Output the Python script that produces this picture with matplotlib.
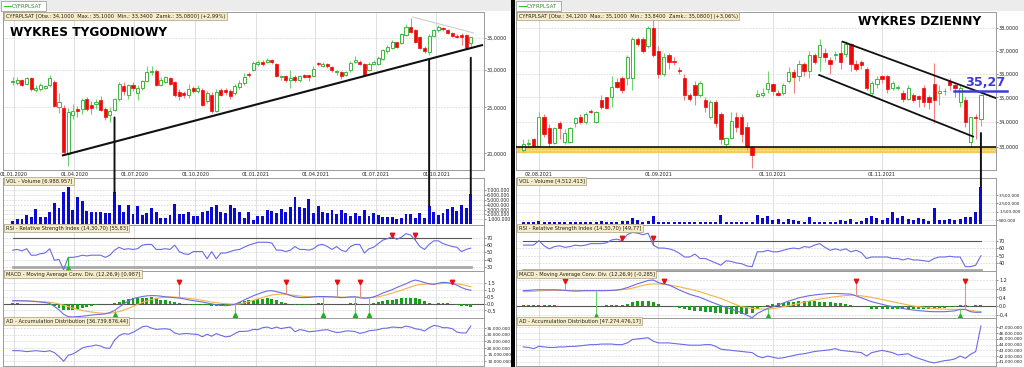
import numpy as np
import pandas as pd
import matplotlib
matplotlib.use('Agg')
import matplotlib.pyplot as plt
import matplotlib.dates as mdates
from matplotlib.patches import Rectangle, ConnectionPatch
from matplotlib.lines import Line2D
from matplotlib.ticker import NullLocator, NullFormatter

# ======================= WEEKLY DATA (left) =======================
w_start = '2019-12-30'
w_open = [28.2,28.1,28.5,28.0,28.8,27.2,27.3,27.5,27.9,28.3,
          25.0,24.9,19.95,24.1,24.8,24.8,26.0,25.3,25.4,25.9,
          24.8,24.1,24.7,26.0,27.7,26.5,27.9,26.8,27.4,28.4,
          29.7,29.8,27.9,28.3,28.8,28.2,26.9,26.8,26.5,27.4,
          27.0,27.2,25.8,26.6,24.6,27.2,27.2,27.1,26.8,27.6,
          28.1,29.4,30.0,30.9,31.2,31.2,31.4,30.8,28.9,29.1,
          28.6,29.0,28.5,29.2,29.2,29.1,31.0,30.6,30.8,30.4,
          29.6,29.6,29.3,29.9,31.2,31.2,30.9,30.0,30.9,30.9,
          31.6,32.8,33.4,34.3,34.2,35.5,36.9,36.3,35.2,33.4,
          32.7,35.3,36.3,36.8,36.3,35.9,35.4,35.5,35.5,34.1]
w_high = [28.9,28.9,28.7,29.0,29.0,27.9,28.1,27.9,29.3,28.5,
          26.8,25.3,24.9,25.4,25.2,26.2,26.3,25.8,26.0,26.4,
          25.0,25.0,26.1,28.3,28.3,28.0,28.2,27.8,28.6,30.6,
          30.6,30.1,28.9,29.1,29.0,28.4,27.3,27.1,28.0,27.7,
          27.8,27.4,27.1,26.9,27.3,27.5,27.4,27.3,28.0,28.5,
          29.5,29.7,31.3,31.4,31.5,31.7,31.6,31.0,29.3,29.3,
          29.9,29.2,29.3,29.4,29.3,30.6,31.2,31.1,31.0,30.6,
          30.0,29.8,29.8,31.3,32.0,31.4,31.0,31.1,31.4,32.1,
          33.2,33.9,34.6,34.4,35.8,37.5,38.6,36.5,35.3,33.6,
          35.6,36.5,37.3,37.0,36.5,36.1,35.6,35.8,35.7,35.1]
w_low = [27.9,27.8,27.7,27.8,27.0,26.9,27.1,27.3,27.6,25.0,
         24.3,19.9,18.8,23.6,23.8,24.2,24.5,24.2,24.8,24.5,
         23.5,23.3,24.5,25.8,26.6,26.0,27.0,25.9,27.2,28.3,
         29.3,27.7,27.7,28.1,27.8,26.3,25.9,26.2,26.2,26.8,
         26.8,25.1,25.5,24.3,24.4,26.4,26.6,26.0,26.5,27.3,
         27.9,28.9,29.8,30.6,30.5,31.0,30.8,28.9,28.6,28.3,
         27.4,28.3,28.3,28.8,28.4,29.0,30.6,30.4,30.3,29.7,
         29.2,28.7,29.1,29.7,31.0,30.7,29.1,29.8,30.7,30.7,
         31.4,32.6,33.2,33.3,34.0,35.3,35.8,34.2,33.1,32.5,
         32.2,35.1,36.1,36.2,35.6,35.2,35.0,33.9,33.2,33.34]
w_close = [28.4,28.6,27.9,28.8,27.3,27.5,27.8,27.7,28.8,25.2,
           25.6,20.1,24.4,24.6,24.5,25.9,24.8,24.9,25.6,24.7,
           23.9,24.6,26.0,28.0,27.0,27.8,27.4,27.5,28.4,29.6,
           29.85,27.9,28.6,28.9,28.0,26.5,26.4,26.5,27.3,27.0,
           27.5,25.3,26.8,24.6,26.9,26.6,26.9,26.4,27.7,28.1,
           29.0,29.2,31.0,31.1,30.9,31.5,31.1,29.1,29.1,28.5,
           28.8,28.5,29.1,29.0,29.0,30.1,30.8,30.8,30.5,29.9,
           29.8,29.1,29.6,31.0,31.5,30.9,29.3,30.9,31.2,31.7,
           33.0,33.5,34.3,33.5,35.6,36.9,36.0,34.4,33.4,32.8,
           35.4,36.3,36.9,36.5,35.8,35.4,35.2,35.2,33.4,35.08]
w_vol_m = [0.55,1.0,1.0,1.9,1.4,3.2,1.5,1.5,2.5,4.4,
           3.3,6.6,7.8,3.0,5.6,4.9,2.8,2.6,2.6,2.6,
           2.2,2.4,6.6,3.9,2.5,4.0,2.1,3.8,1.9,2.3,
           3.3,2.5,1.25,1.25,1.8,4.2,2.1,2.1,2.6,1.6,
           1.6,2.6,2.8,3.5,4.0,2.6,2.3,4.0,3.3,2.6,
           1.25,2.5,0.9,1.7,1.7,3.0,2.8,2.3,3.1,2.6,
           3.5,5.6,3.5,3.3,5.2,2.3,3.8,2.6,2.3,3.0,
           2.1,3.0,2.3,1.6,2.4,1.7,3.0,1.6,2.3,1.9,
           1.4,1.4,1.4,1.0,1.25,2.1,2.1,1.25,2.3,1.25,
           3.7,2.6,1.9,2.3,3.1,3.5,2.8,4.0,3.3,6.25]
w_rsi = [53,54,52,55,46,46,48,49,55,39,
         40,26,43,43,44,46,45,46,46,46,
         43,46,53,57,54,55,54,55,60,61,
         61,54,54,55,54,60,51,48,47,51,
         51,51,41,51,41,49,49,51,53,54,
         57,60,62,64,64,64,63,53,53,51,
         53,58,54,54,53,55,60,61,58,54,
         58,53,51,58,61,61,49,55,57,62,
         67,69,72,68,71,76,74,67,58,54,
         61,66,66,62,60,58,57,51,54,55.83]
w_macd = [0.22,0.22,0.21,0.2,0.18,0.15,0.12,0.08,0.02,-0.2,
          -0.45,-0.78,-0.95,-0.97,-0.95,-0.92,-0.88,-0.84,-0.8,-0.78,
          -0.75,-0.65,-0.5,-0.25,-0.02,0.2,0.36,0.45,0.52,0.57,
          0.59,0.58,0.55,0.5,0.47,0.44,0.4,0.35,0.28,0.22,
          0.17,0.12,0.05,-0.02,-0.08,-0.12,-0.15,-0.12,-0.05,0.1,
          0.27,0.42,0.58,0.7,0.83,0.93,0.95,0.88,0.8,0.72,
          0.6,0.5,0.45,0.44,0.46,0.5,0.52,0.52,0.51,0.5,
          0.47,0.44,0.46,0.5,0.5,0.44,0.39,0.42,0.5,0.62,
          0.78,0.9,1.02,1.18,1.32,1.45,1.62,1.73,1.65,1.54,
          1.46,1.41,1.5,1.56,1.53,1.48,1.35,1.18,1.05,0.987]
w_signal = [0.2,0.2,0.2,0.19,0.18,0.17,0.15,0.13,0.1,0.05,
            -0.02,-0.12,-0.22,-0.32,-0.42,-0.5,-0.56,-0.61,-0.65,-0.69,
            -0.71,-0.7,-0.65,-0.58,-0.47,-0.35,-0.2,-0.05,0.08,0.2,
            0.3,0.38,0.44,0.48,0.49,0.48,0.46,0.43,0.39,0.34,
            0.3,0.24,0.18,0.12,0.07,0.03,0.0,-0.03,-0.04,-0.02,
            0.05,0.15,0.25,0.35,0.45,0.55,0.63,0.68,0.7,0.68,
            0.64,0.6,0.56,0.53,0.51,0.5,0.5,0.5,0.5,0.5,
            0.49,0.48,0.47,0.47,0.48,0.47,0.45,0.44,0.45,0.5,
            0.58,0.67,0.77,0.88,0.99,1.1,1.22,1.33,1.4,1.43,
            1.44,1.44,1.45,1.47,1.49,1.49,1.46,1.4,1.32,1.24]
w_hist = [0.02,0.02,0.01,0.01,0.0,-0.02,-0.03,-0.05,-0.08,-0.15,
          -0.3,-0.45,-0.5,-0.45,-0.42,-0.35,-0.25,-0.15,-0.1,-0.05,
          -0.02,0.0,0.05,0.15,0.3,0.35,0.38,0.4,0.42,0.45,
          0.48,0.4,0.3,0.25,0.2,0.1,0.05,-0.05,-0.08,-0.1,
          -0.1,-0.12,-0.12,-0.15,-0.18,-0.15,-0.12,-0.08,-0.02,0.1,
          0.2,0.25,0.3,0.32,0.35,0.38,0.35,0.25,0.12,0.03,
          -0.05,-0.1,-0.1,-0.1,-0.08,-0.02,0.02,0.02,0.0,0.0,
          -0.05,-0.05,-0.02,0.03,0.05,-0.02,-0.06,-0.04,0.05,0.12,
          0.2,0.25,0.3,0.35,0.38,0.42,0.45,0.45,0.35,0.2,
          0.05,0.0,0.05,0.08,0.05,0.0,-0.1,-0.15,-0.2,-0.22]
w_ad_m = [18.0,18.0,17.8,17.3,17.6,18.0,17.6,17.3,18.0,16.5,
          13.5,9.9,14.5,15.5,17.5,20.0,21.0,21.5,22.3,21.5,
          20.0,19.8,26.0,29.5,31.0,30.5,32.0,34.0,36.2,36.7,
          35.2,34.2,34.5,34.7,34.2,31.5,30.5,31.0,31.0,30.6,
          30.3,28.6,30.5,29.0,31.0,29.7,28.5,29.0,31.0,32.7,
          32.7,33.0,34.2,34.0,35.5,36.0,34.8,36.0,34.8,35.5,
          36.0,32.4,34.0,33.5,32.4,32.7,33.2,33.7,34.0,32.8,
          31.8,32.2,33.0,33.0,32.5,31.2,31.8,33.2,33.5,34.0,
          35.0,35.2,36.0,35.8,35.5,36.7,36.0,34.7,34.2,33.0,
          35.5,37.2,36.7,35.5,35.5,34.7,32.2,31.5,31.5,36.74]
w_tick_dates = ['2020-01-01','2020-04-01','2020-07-01','2020-10-01',
                '2021-01-01','2021-04-01','2021-07-01','2021-10-01']
w_tick_labels = ['01.01.2020','01.04.2020','01.07.2020','01.10.2020',
                 '01.01.2021','01.04.2021','01.07.2021','01.10.2021']
w_rsi_sell = [82, 87]
w_rsi_buy = [12]
w_macd_sell = [36, 59, 70, 75, 95]
w_macd_buy = [22, 48, 67, 74, 77]
w_trend = [('2020-03-15', 19.8), ('2021-12-09', 33.8)]
w_grey = [('2021-08-26', 38.76), ('2021-11-26', 35.86)]
w_vlines = [(22, 23.8), (90, 31.6), (99, 31.8)]   # (week index, price where line starts)

# ======================= DAILY DATA (right) =======================
d_open = [32.9,33.1,33.3,33.05,34.2,33.75,33.15,33.95,33.2,33.2,
          33.95,34.2,34.0,34.45,34.0,34.9,35.0,35.0,35.65,35.8,
          35.8,35.8,37.5,37.5,37.2,38.0,37.0,36.0,36.8,36.55,
          36.15,35.8,35.1,35.5,35.1,34.9,34.2,34.8,34.3,33.1,
          33.35,34.2,34.2,33.8,33.0,35.05,35.1,35.35,35.55,35.2,
          35.2,35.7,36.05,35.9,36.4,36.1,36.8,36.7,36.9,36.6,
          36.8,36.9,36.85,37.3,36.4,36.5,36.2,35.2,35.55,35.9,
          35.9,35.4,35.4,35.2,34.95,35.1,35.05,35.4,35.0,35.55,
          35.2,35.25,35.7,35.5,34.8,34.9,33.2,34.2,34.12]
d_high = [33.3,33.3,33.35,34.4,34.3,33.9,33.8,34.05,33.7,33.8,
          34.2,34.3,34.4,34.5,34.45,35.1,35.0,35.9,35.8,35.9,
          36.8,37.6,37.6,37.6,38.1,38.7,37.2,36.9,36.9,36.7,
          36.3,36.0,35.2,35.7,35.7,35.0,34.9,34.9,34.4,33.4,
          34.4,34.4,34.3,34.0,33.05,35.3,35.4,36.1,35.6,35.3,
          35.6,36.3,36.2,36.6,36.5,37.0,36.9,37.5,37.1,36.7,
          37.0,37.4,37.4,37.35,36.6,36.6,36.3,35.7,35.9,35.95,
          35.95,35.7,35.5,35.3,35.5,35.2,35.1,35.5,35.1,36.45,
          35.5,35.4,35.8,35.6,35.5,35.0,34.2,34.3,35.10]
d_low = [32.8,33.0,33.0,33.0,33.4,33.0,33.1,33.3,33.1,33.15,
         33.8,33.9,33.9,34.35,33.95,34.5,34.5,34.6,35.4,35.2,
         35.5,35.3,37.2,36.9,37.1,36.7,35.8,35.9,36.2,36.35,
         36.0,34.9,34.85,34.7,35.0,34.4,34.1,33.8,33.1,32.95,
         33.3,33.6,33.2,32.9,32.2,35.0,35.0,35.2,35.1,35.05,
         35.1,35.6,35.2,35.7,35.9,35.8,36.4,36.1,36.5,36.0,
         36.6,36.2,36.7,36.1,36.1,36.2,35.3,35.1,35.4,35.6,
         35.2,35.3,35.3,34.8,34.9,34.8,34.6,34.6,34.5,33.95,
         34.7,35.1,35.3,35.0,34.6,33.8,33.0,33.3,33.84]
d_close = [33.1,33.15,33.05,34.2,33.5,33.15,33.75,33.75,33.55,33.75,
           34.15,34.0,34.3,34.4,34.4,34.6,34.55,35.45,35.45,35.3,
           36.7,37.5,37.3,37.0,38.0,36.8,36.0,36.7,36.5,36.5,
           36.1,35.1,34.95,35.1,35.6,34.6,34.8,33.95,33.3,33.35,
           34.05,33.8,33.5,33.0,32.7,35.15,35.2,35.6,35.25,35.1,
           35.5,36.05,35.85,36.4,36.1,36.8,36.5,37.25,36.7,36.4,
           36.85,36.5,37.3,36.4,36.2,36.35,35.4,35.6,35.75,35.75,
           35.35,35.6,35.42,34.95,35.4,34.9,34.95,34.8,34.8,34.9,
           35.25,35.28,35.5,35.4,35.4,34.0,34.2,34.15,35.08]
d_vol_m = [0.22,0.25,0.3,0.38,0.25,0.22,0.22,0.22,0.22,0.25,
           0.22,0.25,0.22,0.25,0.28,0.38,0.3,0.28,0.3,0.38,
           0.4,0.72,0.5,0.3,0.35,1.0,0.3,0.22,0.22,0.25,
           0.22,0.25,0.28,0.28,0.28,0.3,0.28,0.3,1.1,0.25,
           0.25,0.22,0.25,0.3,0.25,1.1,0.72,1.0,0.45,0.58,
           0.3,0.62,0.5,0.42,0.3,0.9,0.3,0.28,0.28,0.3,
           0.3,0.55,0.42,0.58,0.3,0.42,0.78,1.0,0.78,0.5,
           0.7,1.5,0.7,1.0,0.58,0.5,0.7,0.58,0.42,2.0,
           0.5,0.5,0.58,0.5,0.58,0.82,0.9,1.5,4.51]
d_rsi = [64,64,64,70,63,59,62,63,61,62,
         64,63,64,66,66,66,67,71,72,70,
         78,81,80,78,80,64,60,60,59,57,
         53,48,48,52,46,46,43,40,37,43,
         42,40,39,36,35,55,55,57,55,55,
         57,59,60,59,62,61,64,66,61,57,
         59,57,59,55,57,54,46,48,48,48,
         48,46,46,44,46,44,44,43,42,46,
         48,48,49,48,48,35,35,37,49.77]
d_macd = [0.71,0.72,0.74,0.75,0.75,0.75,0.75,0.74,0.72,0.7,
          0.69,0.7,0.71,0.71,0.71,0.71,0.71,0.72,0.74,0.78,
          0.85,0.94,1.03,1.1,1.18,1.2,1.08,1.02,0.97,0.86,
          0.74,0.64,0.54,0.47,0.4,0.3,0.2,0.11,0.02,-0.06,
          -0.14,-0.22,-0.31,-0.42,-0.54,-0.34,-0.22,-0.11,-0.03,0.05,
          0.14,0.23,0.3,0.38,0.43,0.48,0.51,0.54,0.56,0.58,
          0.58,0.57,0.56,0.55,0.47,0.38,0.29,0.2,0.14,0.08,
          0.02,-0.03,-0.07,-0.11,-0.15,-0.18,-0.21,-0.23,-0.25,-0.26,
          -0.26,-0.26,-0.24,-0.22,-0.15,-0.15,-0.26,-0.29,-0.285]
d_signal = [0.66,0.67,0.68,0.7,0.71,0.72,0.72,0.72,0.72,0.72,
            0.71,0.71,0.71,0.71,0.71,0.71,0.72,0.72,0.73,0.75,
            0.78,0.83,0.89,0.95,1.0,1.02,1.02,1.0,0.97,0.93,
            0.89,0.83,0.78,0.72,0.66,0.58,0.5,0.43,0.35,0.25,
            0.15,0.06,-0.03,-0.07,-0.11,-0.13,-0.14,-0.14,-0.12,-0.08,
            -0.03,0.02,0.07,0.12,0.18,0.23,0.28,0.32,0.36,0.4,
            0.43,0.46,0.48,0.5,0.49,0.47,0.44,0.4,0.35,0.3,
            0.25,0.2,0.15,0.1,0.05,0.0,-0.03,-0.06,-0.09,-0.11,
            -0.13,-0.14,-0.15,-0.15,-0.16,-0.17,-0.2,-0.23,-0.26]
d_hist = [0.06,0.05,0.06,0.07,0.06,0.04,0.04,0.02,0.02,0.0,
          0.0,0.0,0.0,0.0,0.0,0.01,0.04,0.05,0.06,0.06,
          0.1,0.18,0.22,0.23,0.23,0.2,0.08,0.02,-0.02,-0.03,
          -0.1,-0.15,-0.2,-0.22,-0.25,-0.27,-0.28,-0.3,-0.33,-0.35,
          -0.37,-0.38,-0.36,-0.35,-0.3,-0.15,-0.05,0.03,0.08,0.12,
          0.15,0.18,0.2,0.22,0.23,0.22,0.22,0.2,0.2,0.18,
          0.15,0.12,0.08,0.05,0.0,0.0,0.0,-0.12,-0.13,-0.14,
          -0.15,-0.15,-0.15,-0.15,-0.15,-0.14,-0.13,-0.13,-0.12,-0.12,
          -0.1,-0.08,-0.06,-0.05,0.05,0.05,-0.04,0.04,0.04]
d_ad_m = [43.6,43.5,43.3,43.7,43.6,43.5,43.5,43.6,43.6,43.7,
          43.7,43.8,43.9,44.0,44.0,44.1,44.1,44.1,44.0,44.0,
          44.3,44.9,45.0,45.1,45.2,44.6,44.3,44.3,44.3,44.2,
          44.1,44.0,43.9,43.9,43.9,44.0,44.0,43.7,43.2,43.1,
          43.0,42.9,42.8,42.7,42.6,42.0,41.7,42.0,41.8,41.6,
          41.7,41.9,42.1,42.3,42.4,42.6,42.8,42.9,43.0,43.1,
          43.3,43.0,42.9,42.8,42.7,42.6,42.0,42.6,42.8,43.0,
          42.8,42.6,42.2,42.3,42.4,41.9,41.6,41.3,41.0,40.8,
          41.0,41.2,41.3,41.5,42.0,41.6,42.3,42.8,47.27]
d_tick_idx = [3, 26, 48, 69]
d_tick_labels = ['02.08.2021', '01.09.2021', '01.10.2021', '01.11.2021']
d_rsi_sell = [19, 25]
d_macd_sell = [8, 27, 64, 85]
d_macd_buy = [14, 47, 84]
d_channel_up = [(61.4, 37.39), (91.0, 34.96)]
d_channel_lo = [(56.9, 35.94), (86.5, 33.41)]
d_resist = 35.27
d_support = 33.0
d_vline = (88, 33.55)

# ======================= FIGURE =======================
W, H = 1024, 367
fig = plt.figure(figsize=(W / 100, H / 100), dpi=100)
fig.patch.set_facecolor('white')


def px_axes(x0, y0, x1, y1):
    return fig.add_axes([x0 / W, 1 - y1 / H, (x1 - x0) / W, (y1 - y0) / H])


def fx(x):
    return x / W


def fy(y):
    return 1 - y / H


TICK_FS = 3.5
BIG_FS = 3.1
LAB_FS = 3.7
GRID_C = '#dadada'
LINE_C = '#6b6be6'
SIG_C = '#f2b24a'


def dotfmt(v):
    return f"{int(round(v)):,}".replace(',', '.')


def style(ax):
    ax.set_facecolor('white')
    for s in ax.spines.values():
        s.set_color('#9a9a9a')
        s.set_linewidth(0.7)
    ax.yaxis.tick_right()
    ax.tick_params(axis='y', which='major', labelsize=TICK_FS, length=1.5, width=0.5,
                   color='#666666', pad=0.7, labelcolor='#222222')
    ax.yaxis.set_minor_locator(NullLocator())
    ax.tick_params(axis='x', which='both', length=0, labelbottom=False)


def label_box(ax, text, y=0.985):
    ax.text(0.006, y, text, transform=ax.transAxes, va='top', ha='left',
            fontsize=LAB_FS, color='#222222', zorder=10,
            bbox=dict(boxstyle='square,pad=0.3', fc='#f6ecc9', ec='#a7a07f', lw=0.5))


def candles(ax, x, o, h, l, c, width):
    x = np.asarray(x, float)
    o, h, l, c = map(np.asarray, (o, h, l, c))
    up = c >= o
    ax.vlines(x[up], l[up], h[up], colors='#6fd36f', lw=0.8, zorder=2)
    ax.vlines(x[~up], l[~up], h[~up], colors='#f08080', lw=0.8, zorder=2)
    bot = np.minimum(o, c)
    hgt = np.abs(c - o)
    ax.bar(x[up], hgt[up], bottom=bot[up], width=width, facecolor='white',
           edgecolor='#3cb83c', lw=0.7, zorder=3)
    ax.bar(x[~up], hgt[~up], bottom=bot[~up], width=width, facecolor='#ee0a0a',
           edgecolor='#ee0a0a', lw=0.5, zorder=3)


def vgrid(ax, xs):
    for xv in xs:
        ax.axvline(xv, color=GRID_C, lw=0.6, zorder=0)


def hgrid(ax, ys):
    for yv in ys:
        ax.axhline(yv, color=GRID_C, lw=0.6, ls=(0, (2, 1.5)), zorder=0)


def build_panel(x0, x1, x, xlim, xticks, xticklabels, o, h, l, c, width, bar_w,
                vol, rsi, macd, sig, hist, ad, cfg):
    ax_p = px_axes(x0, 12, x1, 170)
    ax_v = px_axes(x0, 178, x1, 225)
    ax_r = px_axes(x0, 225, x1, 271)
    ax_m = px_axes(x0, 271, x1, 318)
    ax_a = px_axes(x0, 318, x1, 366)
    for ax in (ax_p, ax_v, ax_r, ax_m, ax_a):
        style(ax)
        ax.set_xlim(*xlim)
        vgrid(ax, xticks)

    # price
    ax_p.set_yscale('log')
    ax_p.set_ylim(*cfg['p_ylim'])
    ax_p.yaxis.set_minor_locator(NullLocator())
    ax_p.yaxis.set_minor_formatter(NullFormatter())
    ax_p.set_yticks(cfg['p_ticks'])
    ax_p.set_yticklabels([f"{t:.4f}".replace('.', ',') for t in cfg['p_ticks']])
    hgrid(ax_p, cfg['p_ticks'])
    candles(ax_p, x, o, h, l, c, width)
    ax_p.set_xticks(xticks)
    ax_p.set_xticklabels(xticklabels)
    ax_p.tick_params(axis='x', labelbottom=True, labelsize=TICK_FS, pad=1.4,
                     labelcolor='#222222')
    label_box(ax_p, cfg['info'], y=0.99)

    # volume
    ax_v.bar(x, vol, width=bar_w, color='#0a0ad2', zorder=3)
    ax_v.set_ylim(*cfg['v_ylim'])
    ax_v.set_yticks(cfg['v_ticks'])
    ax_v.set_yticklabels([dotfmt(t * 1e6) for t in cfg['v_ticks']])
    ax_v.tick_params(axis='y', labelsize=cfg['big_fs'])
    hgrid(ax_v, cfg['v_ticks'])
    label_box(ax_v, cfg['vol_label'])

    # RSI
    ax_r.set_ylim(*cfg['r_ylim'])
    ax_r.set_yticks(cfg['r_ticks'])
    ax_r.set_yticklabels([str(t) for t in cfg['r_ticks']])
    hgrid(ax_r, cfg['r_ticks'])
    ax_r.plot([x[0], x[-1]], [70, 70], color='#555555', lw=0.8, zorder=2)
    ax_r.plot([x[0], x[-1]], [30, 30], color='#a8a8a8', lw=2.0, zorder=2)
    ax_r.plot(x, rsi, color=LINE_C, lw=0.8, zorder=4)
    for i in cfg['r_sell']:
        ax_r.vlines(x[i], rsi[i], 72, color='#e83a3a', lw=0.6, zorder=5)
        ax_r.plot(x[i], 73.5, marker='v', color='#e81010', ms=3.2, zorder=6)
    for i in cfg['r_buy']:
        ax_r.vlines(x[i], 30, rsi[i], color='#22c022', lw=0.8, zorder=5)
        ax_r.plot(x[i], 28.5, marker='^', color='#22c022', ms=3.2, zorder=6)
    label_box(ax_r, cfg['rsi_label'])

    # MACD
    ax_m.set_ylim(*cfg['m_ylim'])
    ax_m.set_yticks(cfg['m_ticks'])
    ax_m.set_yticklabels([f"{t:.1f}".replace('.', ',').replace('-0,0', '0,0')
                          for t in cfg['m_ticks']])
    hgrid(ax_m, cfg['m_ticks'])
    ax_m.axhline(0, color='#555555', lw=0.8, zorder=2)
    ax_m.bar(x, hist, width=bar_w, color='#18a018', zorder=3)
    ax_m.plot(x, sig, color=SIG_C, lw=0.8, zorder=4)
    ax_m.plot(x, macd, color=LINE_C, lw=0.8, zorder=5)
    top_lvl, bot_lvl = cfg['m_marks']
    for i in cfg['m_sell']:
        ax_m.vlines(x[i], macd[i], top_lvl, color='#f08a8a', lw=0.8, zorder=6)
        ax_m.plot(x[i], top_lvl, marker='v', color='#e81010', ms=3.2, zorder=7)
    for i in cfg['m_buy']:
        ax_m.vlines(x[i], bot_lvl, macd[i], color='#66d466', lw=0.8, zorder=6)
        ax_m.plot(x[i], bot_lvl, marker='^', color='#22b022', ms=3.2, zorder=7)
    label_box(ax_m, cfg['macd_label'])

    # AD
    ax_a.set_ylim(*cfg['a_ylim'])
    ax_a.set_yticks(cfg['a_ticks'])
    ax_a.set_yticklabels([dotfmt(t * 1e6) for t in cfg['a_ticks']])
    ax_a.tick_params(axis='y', labelsize=BIG_FS)
    hgrid(ax_a, cfg['a_ticks'])
    ax_a.plot(x, ad, color=LINE_C, lw=0.8, zorder=4)
    label_box(ax_a, cfg['ad_label'])
    return ax_p, ax_v


# ---------------- left panel ----------------
w_x = mdates.date2num(pd.date_range(w_start, periods=len(w_close), freq='7D'))
w_xt = mdates.date2num(pd.to_datetime(w_tick_dates))
left_cfg = dict(
    p_ylim=(18.44, 39.7), p_ticks=[20, 25, 30, 35],
    info='CYFRPLSAT [Otw.: 34,1000  Max.: 35,1000  Min.: 33,3400  Zamk.: 35,0800] (+2,99%)',
    v_ylim=(-0.2, 9.6), v_ticks=[1, 2, 3, 4, 5, 6, 7], big_fs=3.3,
    vol_label='VOL - Volume [6.988.957]',
    r_ylim=(24, 88), r_ticks=[30, 40, 50, 60, 70], r_sell=w_rsi_sell, r_buy=w_rsi_buy,
    rsi_label='RSI - Relative Strength Index (14,30,70) [55,83]',
    m_ylim=(-1.05, 2.39), m_ticks=[-0.5, 0.0, 0.5, 1.0, 1.5], m_marks=(1.62, -0.86),
    m_sell=w_macd_sell, m_buy=w_macd_buy,
    macd_label='MACD - Moving Average Conv. Div. (12,26,9) [0,987]',
    a_ylim=(6.3, 42.9), a_ticks=[10, 15, 20, 25, 30, 35],
    ad_label='AD - Accumulation Distribution [36.739.876,44]')
wl_p, wl_v = build_panel(3, 484, w_x, (w_x[0] - 14.7, w_x[0] + 713), w_xt, w_tick_labels,
                         w_open, w_high, w_low, w_close, 4.6, 4.4,
                         w_vol_m, w_rsi, w_macd, w_signal, w_hist, w_ad_m, left_cfg)

# annotations left
tx = mdates.date2num(pd.to_datetime([p[0] for p in w_trend]))
wl_p.plot(tx, [p[1] for p in w_trend], color='#111111', lw=1.5, zorder=8)
gx = mdates.date2num(pd.to_datetime([p[0] for p in w_grey]))
wl_p.plot(gx, [p[1] for p in w_grey], color='#c8c8c8', lw=0.7, zorder=8)
for idx, ptop in w_vlines:
    con = ConnectionPatch(xyA=(w_x[idx], ptop), coordsA=wl_p.transData,
                          xyB=(w_x[idx], w_vol_m[idx]), coordsB=wl_v.transData,
                          color='#111111', lw=1.4, zorder=20)
    fig.add_artist(con)
wl_p.text(0.0146, 0.873, 'WYKRES TYGODNIOWY', transform=wl_p.transAxes, fontsize=8.7,
          fontweight='heavy', family='DejaVu Sans', color='black', va='center', ha='left', zorder=9)

# ---------------- right panel ----------------
d_x = np.arange(len(d_close))
right_cfg = dict(
    p_ylim=(32.11, 38.73), p_ticks=[33, 34, 35, 36, 37, 38],
    info='CYFRPLSAT [Otw.: 34,1200  Max.: 35,1000  Min.: 33,8400  Zamk.: 35,0800] (+3,06%)',
    v_ylim=(-0.1, 5.55), v_ticks=[0.5, 1.5, 2.5, 3.5], big_fs=BIG_FS,
    vol_label='VOL - Volume [4.512.413]',
    r_ylim=(29.2, 91), r_ticks=[40, 50, 60, 70], r_sell=d_rsi_sell, r_buy=[],
    rsi_label='RSI - Relative Strength Index (14,30,70) [49,77]',
    m_ylim=(-0.55, 1.615), m_ticks=[-0.4, 0.0, 0.4, 0.8, 1.2], m_marks=(1.16, -0.45),
    m_sell=d_macd_sell, m_buy=d_macd_buy,
    macd_label='MACD - Moving Average Conv. Div. (12,26,9) [-0,285]',
    a_ylim=(40.26, 48.66), a_ticks=[41, 42, 43, 44, 45, 46, 47],
    ad_label='AD - Accumulation Distribution [47.274.476,17]')
dr_p, dr_v = build_panel(516, 996, d_x, (-1.4, 90.9), d_tick_idx, d_tick_labels,
                         d_open, d_high, d_low, d_close, 0.62, 0.58,
                         d_vol_m, d_rsi, d_macd, d_signal, d_hist, d_ad_m, right_cfg)

# annotations right
dr_p.axhspan(d_support - 0.2, d_support - 0.02, color='#f2c94c', alpha=0.9, zorder=1)
dr_p.axhline(d_support - 0.1, color='#fff3b0', lw=0.5, ls=(0, (3, 2)), zorder=1)
dr_p.axhline(d_support, color='#111111', lw=1.2, zorder=7)
for seg in (d_channel_up, d_channel_lo):
    dr_p.plot([seg[0][0], seg[1][0]], [seg[0][1], seg[1][1]], color='#111111', lw=1.3, zorder=8)
dr_p.plot([82.8, 93.0], [d_resist, d_resist], color='#3d3dd6', lw=1.8, zorder=9, clip_on=False)
dr_p.text(85.0, 35.64, '35,27', fontsize=9.2, fontweight='bold', color='#3d3dd6',
          va='center', ha='left', zorder=9, clip_on=False)
con = ConnectionPatch(xyA=(d_x[d_vline[0]], d_vline[1]), coordsA=dr_p.transData,
                      xyB=(d_x[d_vline[0]], d_vol_m[d_vline[0]]), coordsB=dr_v.transData,
                      color='#111111', lw=1.4, zorder=20)
fig.add_artist(con)
dr_p.text(0.7125, 0.937, 'WYKRES DZIENNY', transform=dr_p.transAxes, fontsize=8.7,
          fontweight='heavy', family='DejaVu Sans', color='black', va='center', ha='left', zorder=9)

# ---------------- chrome ----------------
fig.add_artist(Rectangle((0, fy(11)), 1, 11 / H, transform=fig.transFigure,
                         fc='#ececec', ec='none', zorder=0))
for xt in (1, 516):
    fig.add_artist(Rectangle((fx(xt), fy(11)), 45 / W, 10 / H, transform=fig.transFigure,
                             fc='white', ec='#a0a0a0', lw=0.6, zorder=1))
    fig.add_artist(Line2D([fx(xt + 3), fx(xt + 10)], [fy(6), fy(6)], transform=fig.transFigure,
                          color='#3cb83c', lw=0.8, zorder=2))
    fig.text(fx(xt + 11), fy(6), 'CYFRPLSAT', fontsize=4.0, color='#2f8f2f',
             va='center', ha='left', zorder=3)
fig.add_artist(Rectangle((fx(511), 0), 4 / W, 1, transform=fig.transFigure,
                         fc='black', ec='none', zorder=30))

fig.savefig('out.png', dpi=100, facecolor=fig.get_facecolor())
